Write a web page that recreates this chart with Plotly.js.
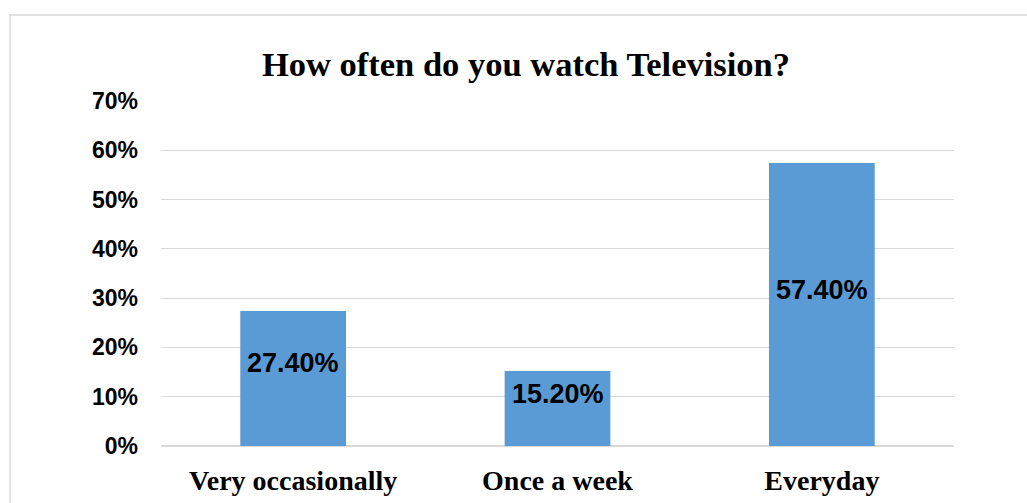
<!DOCTYPE html>
<html>
<head>
<meta charset="utf-8">
<script src="https://cdn.plot.ly/plotly-3.0.1.min.js"></script>
<style>html,body{margin:0;padding:0;background:#fff;}#chart{width:1027px;height:503px;}</style>
</head>
<body>
<div id="chart"></div>
<script>
var categories = ["Very occasionally", "Once a week", "Everyday"];
var values = [27.4, 15.2, 57.4];
var tickValues = [0, 10, 20, 30, 40, 50, 60, 70];
var tickLabels = ["0%", "10%", "20%", "30%", "40%", "50%", "60%", "70%"];
var chartTitle = "How often do you watch Television?";

var W = 1027, H = 503;
var ml = 161, mr = 73, mt = 101, mb = 57;
var pw = W - ml - mr, ph = H - mt - mb;

var annotations = categories.map(function (c, i) {
  return {
    x: c, y: values[i] / 2, xref: 'x', yref: 'y',
    text: values[i].toFixed(2) + '%', showarrow: false, yshift: 15,
    font: {family: 'Liberation Sans, Arial, sans-serif', size: 27, color: '#000', weight: 'bold'}
  };
});

var layout = {
  width: W, height: H,
  margin: {l: ml, r: mr, t: mt, b: mb, pad: 0},
  paper_bgcolor: '#fff', plot_bgcolor: '#fff',
  showlegend: false,
  bargap: 0.6,
  title: {
    text: '<b>' + chartTitle + '</b>',
    x: 526 / W, xref: 'container', xanchor: 'center',
    y: 1 - 64 / H, yref: 'container', yanchor: 'middle',
    font: {family: 'Liberation Serif, Times New Roman, serif', size: 34.5, color: '#000'}
  },
  xaxis: {
    type: 'category',
    showgrid: false, zeroline: false, showline: false, ticks: '',
    ticklabelstandoff: 15,
    tickfont: {family: 'Liberation Serif, Times New Roman, serif', size: 28, color: '#000', weight: 'bold'}
  },
  yaxis: {
    range: [0, 70], tickvals: tickValues, ticktext: tickLabels,
    showgrid: true, gridcolor: '#d9d9d9', gridwidth: 1,
    zeroline: true, zerolinecolor: '#d9d9d9', zerolinewidth: 2,
    showline: false, ticks: '', ticklabelstandoff: 22,
    tickfont: {family: 'Liberation Sans, Arial, sans-serif', size: 23, color: '#000', weight: 'bold'},
    fixedrange: true
  },
  shapes: [{
    type: 'rect', xref: 'paper', yref: 'paper',
    x0: (10 - ml) / pw, x1: (W + 20 - ml) / pw,
    y0: -(mb + 20) / ph, y1: (H - mb - 15) / ph,
    line: {color: '#d9d9d9', width: 1.5}, fillcolor: 'rgba(0,0,0,0)', layer: 'below'
  }],
  annotations: annotations
};

Plotly.newPlot('chart', [{
  type: 'bar', x: categories, y: values,
  marker: {color: '#5b9bd5'},
  hoverinfo: 'none', cliponaxis: false
}], layout, {displayModeBar: false, staticPlot: true});
</script>
</body>
</html>
